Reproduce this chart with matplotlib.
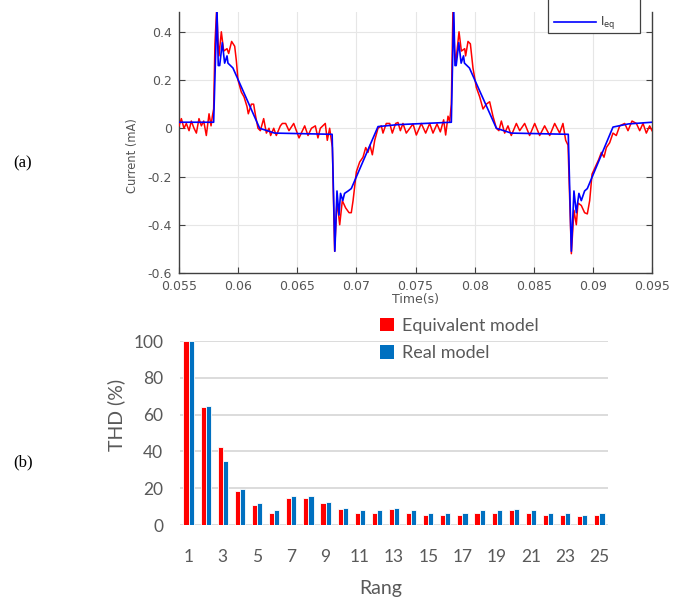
import matplotlib
matplotlib.use('Agg')
import matplotlib.pyplot as plt
import numpy as np
from matplotlib.patches import Patch, Rectangle
from matplotlib.lines import Line2D

# ---------------- panel (a) data: time (ms), current (mA) ----------------
real_t_ms = [55.00, 55.20, 55.42, 55.62, 55.85, 56.04, 56.27, 56.47, 56.69, 56.89,
             57.09, 57.31, 57.54, 57.71, 57.82, 57.93, 58.04, 58.19, 58.30, 58.38,
             58.58, 58.78, 59.06, 59.20, 59.45, 59.71, 59.85, 59.99, 60.27, 60.50,
             60.75, 60.86, 61.12, 61.31, 61.48, 61.68, 61.88, 62.16, 62.39, 62.61,
             62.75, 63.01, 63.23, 63.57, 63.74, 64.02, 64.30, 64.70, 65.15, 65.63,
             65.91, 66.20, 66.53, 66.75, 66.95, 67.37, 67.54, 67.74, 67.88, 67.97,
             68.16, 68.36, 68.59, 68.81, 69.09, 69.38, 69.57, 69.72, 70.00, 70.28,
             70.56, 70.79, 70.98, 71.15, 71.35, 71.55, 71.83, 72.11, 72.25, 72.53,
             72.82, 73.04, 73.32, 73.52, 73.72, 73.94, 74.22, 74.79, 75.07, 75.49,
             75.86, 76.20, 76.48, 76.82, 77.10, 77.38, 77.55, 77.75, 77.89,
             78.03, 78.17, 78.30, 78.40, 78.68, 78.88, 79.16, 79.24, 79.44, 79.64,
             79.86, 80.14, 80.43, 80.71, 80.99, 81.27, 81.55, 81.84, 82.05, 82.26,
             82.54, 82.82, 83.10, 83.53, 83.81, 84.23, 84.65, 85.08, 85.50, 85.92,
             86.35, 86.77, 87.19, 87.47, 87.70, 87.90, 88.18, 88.40, 88.60, 88.74,
             89.02, 89.30, 89.53, 89.73, 89.93, 90.21, 90.49, 90.72, 90.94, 91.14,
             91.42, 91.70, 91.98, 92.27, 92.69, 92.97, 93.31, 93.68, 93.96, 94.24,
             94.52, 94.80, 95.00]
real_i = [0.01, 0.04, 0.00, 0.02, -0.01, 0.03, 0.00, -0.02, 0.04, 0.01,
          0.03, -0.03, 0.06, 0.01, 0.05, 0.08, 0.35, 0.50, 0.36, 0.30,
          0.40, 0.32, 0.33, 0.31, 0.36, 0.34, 0.28, 0.20, 0.15, 0.13,
          0.09, 0.06, 0.10, 0.10, 0.05, 0.00, -0.01, 0.04, -0.02, 0.00,
          -0.03, 0.00, -0.03, 0.01, 0.02, 0.02, -0.01, 0.02, -0.04, 0.01,
          -0.03, 0.00, 0.01, -0.04, 0.00, 0.02, -0.05, 0.00, -0.05, -0.08,
          -0.51, -0.30, -0.40, -0.30, -0.33, -0.35, -0.35, -0.30, -0.18, -0.14,
          -0.12, -0.08, -0.10, -0.07, -0.11, -0.05, 0.00, 0.01, -0.02, 0.02,
          0.02, -0.02, 0.02, 0.024, -0.01, 0.02, -0.02, 0.018, -0.028, 0.02,
          -0.02, 0.02, -0.02, 0.018, -0.015, 0.035, -0.028, 0.05, 0.028,
          0.10, 0.50, 0.33, 0.27, 0.40, 0.32, 0.33, 0.30, 0.36, 0.35,
          0.25, 0.17, 0.13, 0.08, 0.10, 0.11, 0.05, 0.00, -0.01, 0.03,
          -0.02, 0.01, -0.03, 0.02, -0.01, 0.02, -0.03, 0.02, -0.03, 0.01,
          -0.03, 0.02, -0.02, 0.02, -0.05, -0.07, -0.52, -0.34, -0.40, -0.31,
          -0.32, -0.35, -0.355, -0.30, -0.19, -0.16, -0.13, -0.10, -0.12, -0.08,
          -0.06, -0.02, -0.03, 0.01, 0.02, -0.01, 0.03, 0.02, -0.01, 0.02,
          -0.02, 0.01, -0.01]

eq_t_ms = [55.00, 57.93, 58.21, 58.32, 58.44, 58.66, 58.86, 59.06, 59.14, 59.56,
           61.82, 63.09, 67.95, 68.18, 68.36, 68.53, 68.66, 68.85, 69.00, 69.30,
           69.57, 71.83, 73.50, 78.03, 78.23, 78.34, 78.44, 78.66, 78.86, 79.06,
           79.14, 79.56, 81.84, 83.10, 87.92, 88.18, 88.40, 88.60, 88.82, 89.02,
           89.30, 89.53, 91.70, 93.00, 95.00]
eq_i = [0.025, 0.025, 0.50, 0.26, 0.26, 0.355, 0.27, 0.30, 0.27, 0.25,
        0.00, -0.02, -0.025, -0.51, -0.26, -0.36, -0.27, -0.30, -0.27, -0.26,
        -0.25, 0.007, 0.015, 0.025, 0.50, 0.26, 0.26, 0.355, 0.27, 0.30,
        0.27, 0.25, 0.00, -0.02, -0.025, -0.51, -0.26, -0.35, -0.27, -0.30,
        -0.26, -0.25, 0.005, 0.018, 0.025]

time_ticks = [0.055, 0.06, 0.065, 0.07, 0.075, 0.08, 0.085, 0.09, 0.095]
time_tick_labels = ['0.055', '0.06', '0.065', '0.07', '0.075', '0.08', '0.085', '0.09', '0.095']
current_ticks = [-0.6, -0.4, -0.2, 0, 0.2, 0.4]
current_tick_labels = ['-0.6', '-0.4', '-0.2', '0', '0.2', '0.4']

# ---------------- panel (b) data ----------------
harmonic_rank = list(range(1, 26))
thd_equivalent = [100, 64, 42.6, 18.7, 10.9, 6.3, 14.9, 14.9, 11.8, 8.7,
                  6.3, 6.3, 8.7, 6.3, 5.6, 5.6, 5.6, 6.3, 6.3, 8.0,
                  6.3, 5.6, 5.6, 4.9, 5.6]
thd_real = [100, 64.7, 34.8, 19.4, 11.8, 8.0, 15.8, 15.8, 12.5, 9.4,
            8.0, 8.0, 9.4, 8.0, 6.3, 6.3, 6.3, 8.0, 8.0, 8.7,
            8.0, 6.3, 6.3, 5.6, 6.3]
rank_ticks = [1, 3, 5, 7, 9, 11, 13, 15, 17, 19, 21, 23, 25]
thd_ticks = [0, 20, 40, 60, 80, 100]

W, H = 684, 600
fig = plt.figure(figsize=(W / 100, H / 100), dpi=100)

# ---------------- panel (a) ----------------
ax1 = fig.add_axes([179 / W, 1 - 273 / H, 473 / W, (273 - 12) / H])
ax1.plot(np.array(real_t_ms) / 1000, real_i, color='#ff0000', lw=1.1, zorder=3)
ax1.plot(np.array(eq_t_ms) / 1000, eq_i, color='#0000ff', lw=1.2, zorder=4)
ax1.set_xlim(0.055, 0.095)
ax1.set_ylim(-0.6, 0.482)
ax1.set_xticks(time_ticks)
ax1.set_xticklabels(time_tick_labels)
ax1.set_yticks(current_ticks)
ax1.set_yticklabels(current_tick_labels)
ax1.grid(True, color='#e6e6e6', lw=0.8)
ax1.set_axisbelow(True)
for s in ['left', 'right', 'bottom']:
    ax1.spines[s].set_color('#404040')
    ax1.spines[s].set_linewidth(1.0)
ax1.spines['top'].set_visible(False)
ax1.tick_params(direction='in', length=4, width=0.8, color='#404040',
                labelsize=9, labelcolor='#555555', right=True)
ax1.tick_params(axis='x', pad=5)
ax1.tick_params(axis='y', pad=5)
ax1.set_xlabel('Time(s)', fontsize=9, color='#555555', labelpad=0)
ax1.set_ylabel('Current (mA)', fontsize=8.3, color='#555555', labelpad=4)
ax1.yaxis.set_label_coords(-0.085, 0.45)

# legend box (cut off at top, as in reference)
leg_box = Rectangle((548 / W, 1 - 33 / H), (640 - 548) / W, 40 / H,
                    transform=fig.transFigure, facecolor='white',
                    edgecolor='#404040', lw=0.9, zorder=10)
fig.patches.append(leg_box)
fig.add_artist(Line2D([554 / W, 596 / W], [1 - 22 / H, 1 - 22 / H],
                      transform=fig.transFigure, color='#0000ff', lw=1.2, zorder=11))
fig.text(600 / W, 1 - 23 / H, r'I$_{\mathregular{eq}}$', fontsize=8.5, color='#333333',
         va='center', ha='left', zorder=11)

# ---------------- panel (b) ----------------
ax2 = fig.add_axes([180 / W, 1 - 525 / H, 428 / W, 184 / H])
x = np.array(harmonic_rank)
w = 0.3
ax2.bar(x - w / 2, thd_equivalent, w, color='#ff0000', edgecolor='white',
        linewidth=0.6, label='Equivalent model', zorder=3)
ax2.bar(x + w / 2, thd_real, w, color='#0070c0', edgecolor='white',
        linewidth=0.6, label='Real model', zorder=3)
ax2.set_xlim(0.5, 25.5)
ax2.set_ylim(0, 100)
ax2.set_xticks(rank_ticks)
ax2.set_yticks(thd_ticks)
ax2.yaxis.grid(True, color='#d9d9d9', lw=1.3)
ax2.set_axisbelow(True)
for s in ['left', 'right', 'top', 'bottom']:
    ax2.spines[s].set_visible(False)
ax2.tick_params(length=0, labelsize=12.5, labelcolor='#595959')
ax2.tick_params(axis='y', pad=12)
ax2.tick_params(axis='x', pad=17)
for lab in ax2.get_xticklabels() + ax2.get_yticklabels():
    lab.set_family('Lato')
ax2.set_xlabel('Rang', fontsize=14, color='#595959', family='Lato')
ax2.xaxis.set_label_coords((381 - 180) / 428, -(580 - 525) / 184)
ax2.set_ylabel('THD (%)', fontsize=14, color='#595959', family='Lato')
ax2.yaxis.set_label_coords(-(180 - 125) / 428, (525 - 415) / 184)

handles = [Patch(facecolor='#ff0000', edgecolor='none'),
           Patch(facecolor='#0070c0', edgecolor='none')]
leg = fig.legend(handles, ['Equivalent model', 'Real model'], loc='upper left',
                 bbox_to_anchor=(380 / W, 1 - 318 / H), frameon=False,
                 handlelength=0.75, handleheight=0.75, handletextpad=0.45,
                 labelspacing=0.62, borderpad=0, borderaxespad=0,
                 prop={'family': 'Lato', 'size': 13})
for t in leg.get_texts():
    t.set_color('#595959')

# panel labels
fig.text(23 / W, 1 - 163 / H, '(a)', fontsize=12, family='Liberation Serif',
         ha='center', va='center', color='black')
fig.text(23 / W, 1 - 462 / H, '(b)', fontsize=12, family='Liberation Serif',
         ha='center', va='center', color='black')

fig.savefig('out.png', dpi=100)
